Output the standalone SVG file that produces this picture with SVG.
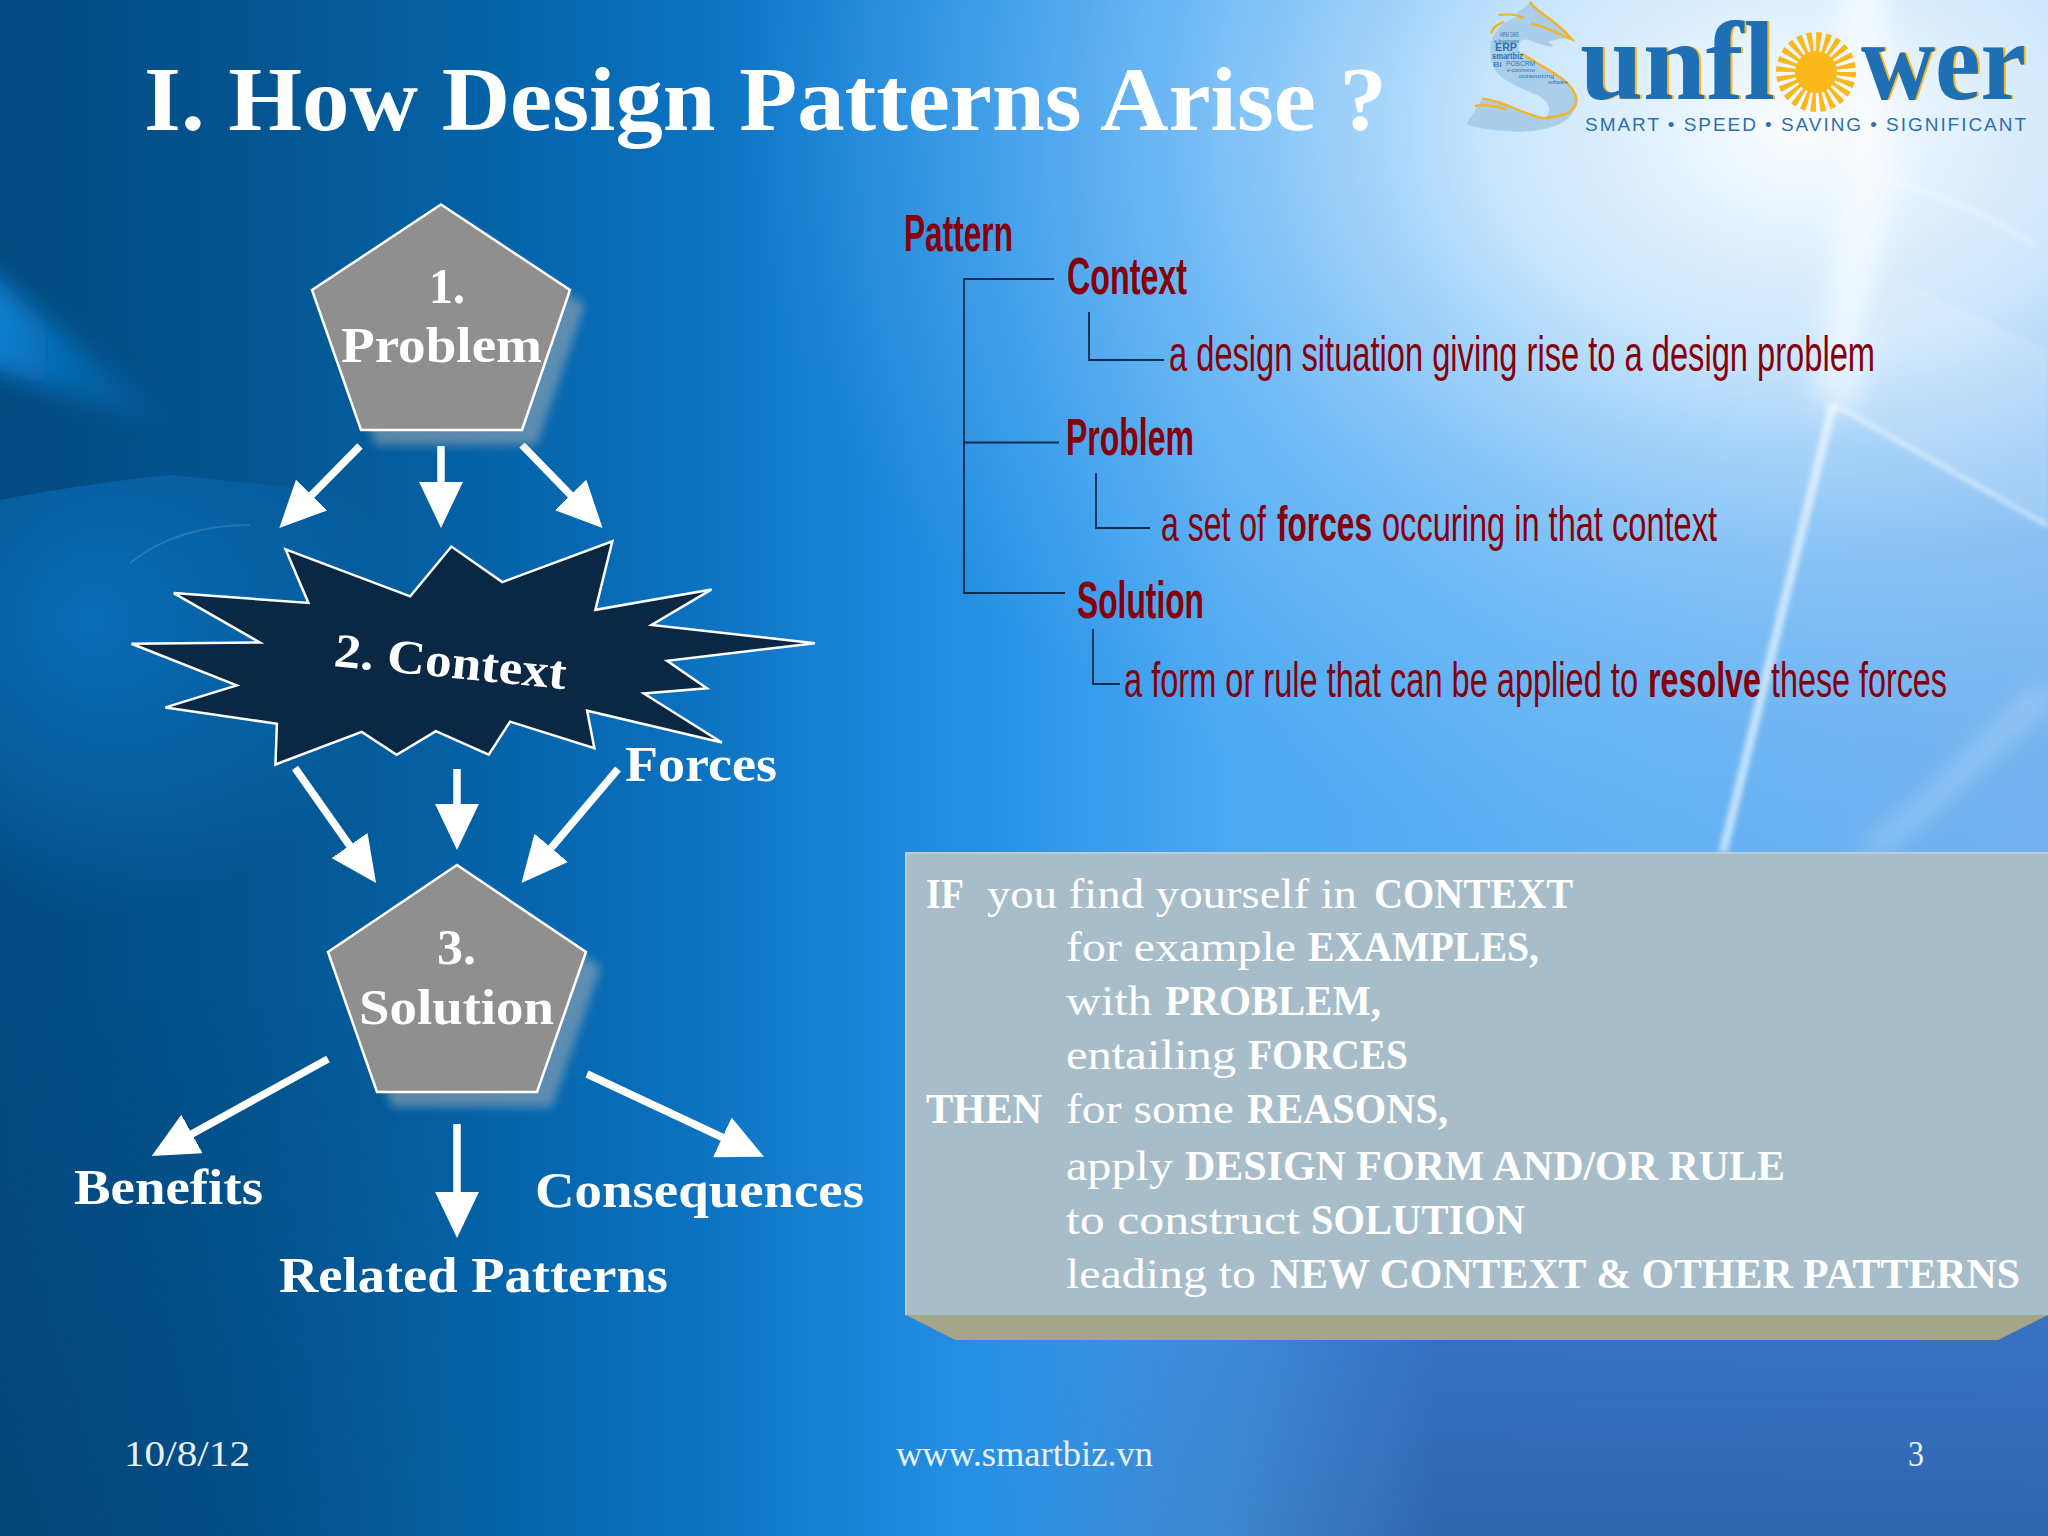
<svg xmlns="http://www.w3.org/2000/svg" width="2048" height="1536" viewBox="0 0 2048 1536">
<style>
.s{font-family:"Liberation Serif",serif;fill:#fff}
.b{font-weight:700}
.m{font-family:"Liberation Sans",Arial,sans-serif;fill:#86000c}
.h{font-weight:700;font-size:52px}
.d{font-size:50px}
.t{font-size:43px}
.n{font-size:50px;font-weight:700}
.f{font-size:35px;fill:#e8f1f8}
.sb{stroke:#fff;stroke-width:2.5;stroke-linejoin:miter}
.ar{stroke:#fff;stroke-width:7.5;fill:none;marker-end:url(#ah)}
.tl{stroke:#0a2b4c;fill:none;stroke-width:1.8}
.lg{font-family:"Liberation Serif",serif;font-weight:700;font-size:112px}
.tiny{font-family:"Liberation Sans",sans-serif;fill:#2b70ad}
.st{fill:none;stroke:#fff}
</style>
<defs>
<linearGradient id="bg" x1="0" y1="0" x2="1" y2="0">
<stop offset="0" stop-color="#034a80"/><stop offset=".12" stop-color="#04548f"/><stop offset=".25" stop-color="#0564aa"/><stop offset=".33" stop-color="#0a70be"/><stop offset=".42" stop-color="#1a84d6"/><stop offset=".5" stop-color="#2c95e8"/><stop offset=".6" stop-color="#4ca9f3"/><stop offset=".75" stop-color="#5cb0f5"/><stop offset="1" stop-color="#72b0ee"/>
</linearGradient>
<radialGradient id="gl" gradientUnits="userSpaceOnUse" cx="1800" cy="130" r="1050" gradientTransform="translate(1800 130) scale(1 .72) translate(-1800 -130)">
<stop offset="0" stop-color="#fff" stop-opacity=".98"/><stop offset=".3" stop-color="#dff1ff" stop-opacity=".82"/><stop offset=".6" stop-color="#a9d6fb" stop-opacity=".42"/><stop offset="1" stop-color="#7cc0f8" stop-opacity="0"/>
</radialGradient>
<linearGradient id="lo" x1="0" y1="0" x2="0" y2="1"><stop offset="0" stop-color="#2e62b8" stop-opacity="0"/><stop offset=".5" stop-color="#2f67bd" stop-opacity=".85"/><stop offset="1" stop-color="#3066b0" stop-opacity="1"/></linearGradient>
<linearGradient id="lom" x1="0" y1="0" x2="1" y2="0"><stop offset=".48" stop-color="#000"/><stop offset=".7" stop-color="#fff"/></linearGradient>
<mask id="mk"><rect width="2048" height="1536" fill="url(#lom)"/></mask>
<linearGradient id="dk" x1="0" y1="0" x2="0" y2="1"><stop offset="0" stop-color="#03406f" stop-opacity="0"/><stop offset="1" stop-color="#03406f" stop-opacity=".5"/></linearGradient>
<linearGradient id="lf" x1="0" y1="0" x2="1" y2="0"><stop offset="0" stop-color="#fff"/><stop offset=".55" stop-color="#000"/></linearGradient>
<mask id="mkl"><rect width="900" height="1536" fill="url(#lf)"/></mask>
<radialGradient id="sw" gradientUnits="userSpaceOnUse" cx="90" cy="620" r="300"><stop offset="0" stop-color="#0a76c6" stop-opacity=".75"/><stop offset=".55" stop-color="#0a76c6" stop-opacity=".4"/><stop offset="1" stop-color="#0a76c6" stop-opacity="0"/></radialGradient>
<clipPath id="swc"><path d="M0 500C50 490 120 480 170 475L420 500V1000H0Z"/></clipPath>
<linearGradient id="wd" gradientUnits="userSpaceOnUse" x1="0" y1="0" x2="190" y2="0"><stop offset="0" stop-color="#0a88dc" stop-opacity=".85"/><stop offset="1" stop-color="#0a78c8" stop-opacity="0"/></linearGradient>
<filter id="bl" x="-30%" y="-30%" width="160%" height="160%"><feGaussianBlur stdDeviation="5"/></filter>
<filter id="bw" filterUnits="userSpaceOnUse" x="0" y="0" width="2048" height="1536"><feGaussianBlur stdDeviation="2.5"/></filter>
<filter id="bc" filterUnits="userSpaceOnUse" x="1500" y="-200" width="700" height="1000"><feGaussianBlur stdDeviation="16"/></filter>
<filter id="bx" filterUnits="userSpaceOnUse" x="-200" y="0" width="2400" height="1536"><feGaussianBlur stdDeviation="12"/></filter>
<marker id="ah" markerUnits="userSpaceOnUse" markerWidth="46" markerHeight="44" viewBox="0 0 44 42" refX="24" refY="21" orient="auto"><path d="M0 0L44 21L0 42Z" fill="#fff"/></marker>
</defs>
<g id="background">
<rect width="2048" height="1536" fill="url(#bg)"/>
<rect y="1000" width="900" height="536" fill="url(#dk)" mask="url(#mkl)"/>
<rect y="1050" width="2048" height="486" fill="url(#lo)" mask="url(#mk)"/>
<rect width="2048" height="1100" fill="url(#gl)"/>
<rect width="420" height="1000" fill="url(#sw)" clip-path="url(#swc)"/>
<path d="M130 563C165 535 205 525 250 525" class="st" stroke-opacity=".12" stroke-width="2"/>
<path d="M-80 215L180 430L-80 345Z" fill="url(#wd)" filter="url(#bx)"/>
<path d="M1833 404L2048 526V350L1900 280Z" fill="#fff" opacity=".14" filter="url(#bw)"/>
<path d="M1873 177C1930 190 1990 215 2037 246" class="st" stroke-opacity=".5" stroke-width="3" filter="url(#bw)"/>
<path d="M1833 404L2048 526" class="st" stroke-opacity=".55" stroke-width="4" filter="url(#bw)"/>
<path d="M1833 404L1723 852" class="st" stroke-opacity=".6" stroke-width="9" filter="url(#bw)"/>
<path d="M1860 -40L1868 177L1835 404" class="st" stroke-opacity=".72" stroke-width="38" filter="url(#bc)"/>
<path d="M1867 852C1930 810 1990 740 2048 692" class="st" stroke-opacity=".28" stroke-width="18" filter="url(#bx)"/>
</g>
<text id="title" class="s b" x="144" y="130" font-size="91" textLength="1243" lengthAdjust="spacingAndGlyphs">I. How Design Patterns Arise ?</text>
<g id="logo">
<g transform="translate(1440 0) scale(.3878 .3333)">
<path d="M232 5C250 40 300 60 340 118C320 112 300 120 280 125C310 150 270 140 230 120C200 110 190 150 220 170C280 220 345 240 352 300C350 370 280 395 200 395C140 392 90 385 68 372C85 340 95 325 110 295C160 300 215 345 270 352C290 340 285 305 250 285C190 255 130 230 130 165C125 110 150 70 200 50C190 30 225 25 232 5Z" fill="#a6cbe8" opacity=".9"/>
<path d="M232 5C245 35 300 60 340 118C310 105 285 85 235 70M150 45C190 40 200 45 215 55M132 100C140 75 150 75 165 65M210 160C280 215 345 240 352 300C350 345 300 350 270 355C215 345 160 300 108 296M90 318C120 312 150 320 170 328" fill="none" stroke="#f2b42a" stroke-width="7"/>
</g>
<text class="tiny" x="1500" y="37" font-size="6.5" textLength="19" lengthAdjust="spacingAndGlyphs">HRM DMS</text>
<text class="tiny" x="1494" y="43" font-size="6" textLength="25" lengthAdjust="spacingAndGlyphs">e-business</text>
<text class="tiny b" x="1495" y="51" font-size="11" textLength="22" lengthAdjust="spacingAndGlyphs">ERP</text>
<text class="tiny b" x="1492" y="59" font-size="8.5" textLength="31" lengthAdjust="spacingAndGlyphs">smartbiz</text>
<text class="tiny" x="1493" y="67" font-size="8" textLength="9" lengthAdjust="spacingAndGlyphs">BI</text>
<text class="tiny" x="1506" y="66" font-size="6.5" textLength="29" lengthAdjust="spacingAndGlyphs">POSCRM</text>
<text class="tiny" x="1507" y="72" font-size="5.5" textLength="28" lengthAdjust="spacingAndGlyphs">e-commerce</text>
<text class="tiny" x="1519" y="78" font-size="6" textLength="35" lengthAdjust="spacingAndGlyphs">outsourcing</text>
<text class="tiny" x="1548" y="84" font-size="5" textLength="20" lengthAdjust="spacingAndGlyphs">software</text>
<text class="lg" x="1582" y="99" fill="#fbb81a" textLength="195" lengthAdjust="spacingAndGlyphs">unfl</text>
<text class="lg" x="1580" y="99" fill="#1f6fb5" textLength="195" lengthAdjust="spacingAndGlyphs">unfl</text>
<text class="lg" x="1863" y="99" fill="#fbb81a" textLength="165" lengthAdjust="spacingAndGlyphs">wer</text>
<text class="lg" x="1861" y="99" fill="#1f6fb5" textLength="165" lengthAdjust="spacingAndGlyphs">wer</text>
<circle cx="1816" cy="72" r="21" fill="#fbb81a"/>
<circle cx="1816" cy="72" r="30" fill="none" stroke="#fbb81a" stroke-width="20" stroke-dasharray="4.4 3.45"/>
<text x="1585" y="131" font-family="Liberation Sans Narrow,Liberation Sans,sans-serif" font-size="19" fill="#2b70ad" textLength="441" lengthAdjust="spacing">SMART • SPEED • SAVING • SIGNIFICANT</text>
</g>
<g id="connectors">
<path class="ar" d="M360 446L294 513"/>
<path class="ar" d="M441 446V507"/>
<path class="ar" d="M522 445L588 513"/>
<path class="ar" d="M295 768L364 866"/>
<path class="ar" d="M457 769V829"/>
<path class="ar" d="M618 769L535 867"/>
<path class="ar" d="M328 1059L170 1146"/>
<path class="ar" d="M457 1124V1217"/>
<path class="ar" d="M587 1074L745 1148"/>
<path class="tl" d="M1054 279H964V593H1065M964 442.5H1059"/>
<path class="tl" d="M1089 312V360H1164M1096 473V528H1150M1093 629V684H1120"/>
</g>
<g id="node-problem">
<path d="M456 219L585 305L537 445H376L327 305Z" fill="#b4b4b4" opacity=".5" filter="url(#bl)"/>
<path class="sb" d="M441 204.5L570 290L522 430H361L312 290Z" fill="#908f90"/>
<text class="s b" x="429" y="303" font-size="50" textLength="36" lengthAdjust="spacingAndGlyphs">1.</text>
<text class="s b" x="341" y="362" font-size="50" textLength="201" lengthAdjust="spacingAndGlyphs">Problem</text>
</g>
<g id="node-context">
<polygon class="sb" transform="translate(100 180) scale(.4847 .4082)" vector-effect="non-scaling-stroke" fill="#0a2744" points="383,905 640,1020 725,898 830,985 1057,885 1022,1053 1262,1003 1138,1090 1475,1135 1170,1178 1252,1245 1122,1258 1283,1378 1005,1300 1020,1392 846,1327 802,1408 693,1350 612,1408 540,1352 362,1432 365,1332 135,1292 282,1238 65,1136 330,1133 152,1012 430,1036"/>
<text class="s b" transform="translate(333 666) rotate(5.7)" font-size="48" textLength="233" lengthAdjust="spacingAndGlyphs">2. Context</text>
</g>
<g id="node-solution">
<path d="M472 880L601 967L552 1107H392L343 967Z" fill="#b4b4b4" opacity=".5" filter="url(#bl)"/>
<path class="sb" d="M457 865L586 952L537 1092H377L328 952Z" fill="#908f90"/>
<text class="s b" x="437" y="964" font-size="50" textLength="39" lengthAdjust="spacingAndGlyphs">3.</text>
<text class="s b" x="359" y="1024" font-size="50" textLength="195" lengthAdjust="spacingAndGlyphs">Solution</text>
</g>
<g id="labels">
<text class="s n" x="625" y="781" textLength="152" lengthAdjust="spacingAndGlyphs">Forces</text>
<text class="s n" x="74" y="1204" textLength="189" lengthAdjust="spacingAndGlyphs">Benefits</text>
<text class="s n" x="535" y="1207" textLength="329" lengthAdjust="spacingAndGlyphs">Consequences</text>
<text class="s n" x="279" y="1292" textLength="389" lengthAdjust="spacingAndGlyphs">Related Patterns</text>
</g>
<g id="pattern-tree">
<text class="m h" x="904" y="251" textLength="109" lengthAdjust="spacingAndGlyphs">Pattern</text>
<text class="m h" x="1067" y="294" textLength="120" lengthAdjust="spacingAndGlyphs">Context</text>
<text class="m d" x="1169" y="371" textLength="706" lengthAdjust="spacingAndGlyphs">a design situation giving rise to a design problem</text>
<text class="m h" x="1066" y="455" textLength="128" lengthAdjust="spacingAndGlyphs">Problem</text>
<text class="m d" x="1161" y="541" textLength="105" lengthAdjust="spacingAndGlyphs">a set of</text>
<text class="m d b" x="1277" y="541" textLength="95" lengthAdjust="spacingAndGlyphs">forces</text>
<text class="m d" x="1382" y="541" textLength="335" lengthAdjust="spacingAndGlyphs">occuring in that context</text>
<text class="m h" x="1077" y="618" textLength="127" lengthAdjust="spacingAndGlyphs">Solution</text>
<text class="m d" x="1124" y="697" textLength="514" lengthAdjust="spacingAndGlyphs">a form or rule that can be applied to</text>
<text class="m d b" x="1648" y="697" textLength="113" lengthAdjust="spacingAndGlyphs">resolve</text>
<text class="m d" x="1771" y="697" textLength="176" lengthAdjust="spacingAndGlyphs">these forces</text>
</g>
<g id="rule-box">
<polygon points="906,1315 2048,1315 1998,1340 955,1340" fill="#a5a58c"/>
<rect x="906" y="853" width="1142" height="462" fill="#a8bdca"/>
<path d="M906 1315V853H2048" fill="none" stroke="#bccbd5" stroke-width="2"/>
<text class="s b t" x="926" y="908" textLength="38" lengthAdjust="spacingAndGlyphs">IF</text>
<text class="s t" x="987" y="908" textLength="370" lengthAdjust="spacingAndGlyphs">you find yourself in</text>
<text class="s b t" x="1374" y="908" textLength="199" lengthAdjust="spacingAndGlyphs">CONTEXT</text>
<text class="s t" x="1066" y="961" textLength="230" lengthAdjust="spacingAndGlyphs">for example</text>
<text class="s b t" x="1308" y="961" textLength="231" lengthAdjust="spacingAndGlyphs">EXAMPLES,</text>
<text class="s t" x="1066" y="1015" textLength="86" lengthAdjust="spacingAndGlyphs">with</text>
<text class="s b t" x="1165" y="1015" textLength="216" lengthAdjust="spacingAndGlyphs">PROBLEM,</text>
<text class="s t" x="1066" y="1069" textLength="170" lengthAdjust="spacingAndGlyphs">entailing</text>
<text class="s b t" x="1248" y="1069" textLength="160" lengthAdjust="spacingAndGlyphs">FORCES</text>
<text class="s b t" x="926" y="1123" textLength="116" lengthAdjust="spacingAndGlyphs">THEN</text>
<text class="s t" x="1066" y="1123" textLength="168" lengthAdjust="spacingAndGlyphs">for some</text>
<text class="s b t" x="1247" y="1123" textLength="201" lengthAdjust="spacingAndGlyphs">REASONS,</text>
<text class="s t" x="1066" y="1180" textLength="107" lengthAdjust="spacingAndGlyphs">apply</text>
<text class="s b t" x="1185" y="1180" textLength="600" lengthAdjust="spacingAndGlyphs">DESIGN FORM AND/OR RULE</text>
<text class="s t" x="1066" y="1234" textLength="234" lengthAdjust="spacingAndGlyphs">to construct</text>
<text class="s b t" x="1311" y="1234" textLength="214" lengthAdjust="spacingAndGlyphs">SOLUTION</text>
<text class="s t" x="1066" y="1288" textLength="190" lengthAdjust="spacingAndGlyphs">leading to</text>
<text class="s b t" x="1270" y="1288" textLength="750" lengthAdjust="spacingAndGlyphs">NEW CONTEXT &amp; OTHER PATTERNS</text>
</g>
<g id="footer">
<text class="s f" x="124" y="1466" textLength="126" lengthAdjust="spacingAndGlyphs">10/8/12</text>
<text class="s f" x="896" y="1466" textLength="257" lengthAdjust="spacingAndGlyphs">www.smartbiz.vn</text>
<text class="s f" x="1908" y="1466" textLength="16" lengthAdjust="spacingAndGlyphs">3</text>
</g>
</svg>
